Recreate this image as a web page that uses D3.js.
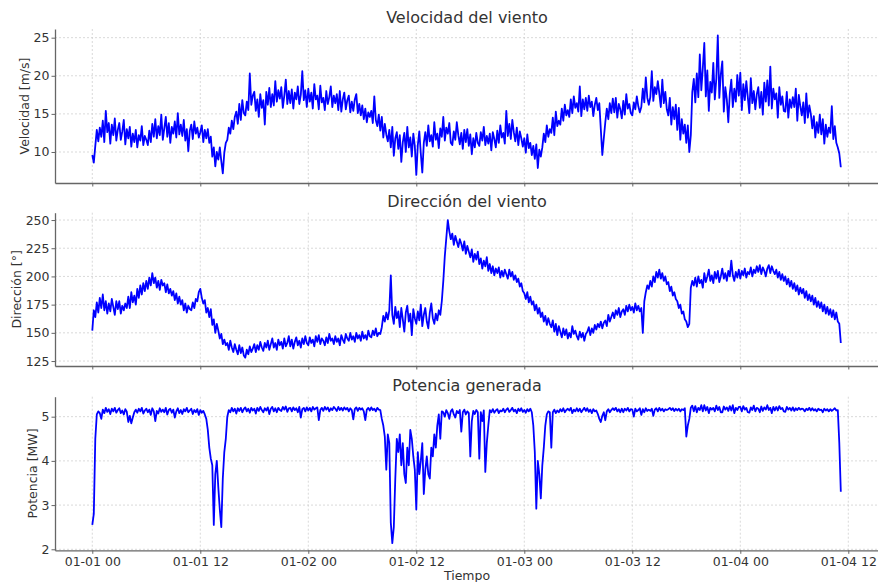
<!DOCTYPE html>
<html>
<head>
<meta charset="utf-8">
<script src="https://cdn.jsdelivr.net/npm/d3@7"></script>
<style>
  body { margin: 0; background: #fff; }
  svg { display: block; font-family: "DejaVu Sans", sans-serif; }
</style>
</head>
<body>
<svg id="chart" width="878" height="582"></svg>
<script>
// Series sampled every 10 minutes from 01-01 00:00; one row = 2 hours.
const startTime = new Date(2024, 0, 1, 0, 0);
const stepMinutes = 10;

const timeTickHours = [0, 12, 24, 36, 48, 60, 72, 84];
const speedTicks = [10, 15, 20, 25];
const directionTicks = [125, 150, 175, 200, 225, 250];
const powerTicks = [2, 3, 4, 5];

const panelTitles = ["Velocidad del viento", "Dirección del viento", "Potencia generada"];
const yAxisLabels = ["Velocidad [m/s]", "Dirección [°]", "Potencia [MW]"];
const xAxisLabel = "Tiempo";

// Wind speed, m/s
const speed = [
  9.6, 8.6, 10.8, 12.9, 11.4, 13.2, 12.0, 14.1, 11.3, 15.4, 12.6, 13.8,
  11.1, 13.6, 12.2, 14.4, 11.5, 12.9, 13.8, 11.6, 12.7, 14.2, 11.0, 13.0,
  11.8, 13.3, 10.7, 12.4, 11.3, 12.9, 10.6, 12.2, 11.5, 13.4, 10.9, 12.1,
  11.6, 10.9, 12.8, 11.3, 13.7, 12.0, 14.3, 11.8, 13.4, 12.2, 14.9, 11.6,
  13.1, 14.6, 12.0, 13.8, 11.2, 13.3, 12.4, 14.0, 11.9, 15.1, 12.3, 13.6,
  12.1, 14.2, 11.5, 13.0, 10.1, 12.8, 13.6, 11.7, 14.0, 12.4, 13.2, 11.9,
  12.6, 13.5, 11.3, 12.9, 11.8, 13.0, 11.2, 12.0, 9.4, 10.6, 8.1, 10.0,
  9.0, 10.6, 8.8, 7.2, 9.9, 11.2, 11.6, 13.2, 12.4, 14.1, 13.0, 14.6,
  15.3, 13.7, 16.3, 14.2, 16.8, 15.1, 14.8, 16.6, 15.5, 20.3, 16.2, 17.4,
  17.9, 15.4, 16.9, 14.6, 17.6, 15.8, 16.8, 13.6, 17.9, 16.2, 18.4, 15.9,
  17.6, 16.1, 19.3, 16.6, 18.1, 17.0, 18.5, 15.8, 17.4, 19.5, 16.3, 18.0,
  16.4, 18.2, 15.7, 17.8, 16.9, 18.6, 16.3, 17.5, 20.6, 16.8, 18.1, 15.9,
  18.3, 16.6, 17.8, 15.7, 18.9, 16.9, 17.4, 15.6, 18.7, 16.5, 17.1, 15.5,
  18.0, 16.3, 17.2, 18.6, 15.9, 17.4, 16.4, 17.6, 15.5, 18.0, 15.3, 16.9,
  17.8, 15.6, 16.8, 17.4, 15.2, 16.6, 15.4, 16.9, 17.6, 15.1, 16.3, 14.8,
  16.1, 14.3, 15.7, 13.9, 15.2, 14.6, 15.4, 13.8, 17.3, 14.2, 13.4, 14.9,
  12.8, 14.6, 11.9, 13.7, 12.3, 11.4, 12.9, 10.6, 13.3, 9.5, 11.8, 12.6,
  10.4, 12.2, 8.7, 11.3, 12.5, 10.0, 13.3, 10.6, 11.9, 9.4, 12.4, 10.8,
  7.0, 10.9, 12.7, 9.8, 7.3, 11.2, 12.6, 10.8, 13.5, 11.4, 12.2, 10.7,
  13.9, 11.6, 12.4, 10.5, 13.1, 12.0, 14.6, 11.5, 13.2, 12.4, 13.8, 11.2,
  10.9, 12.7, 11.6, 13.9, 12.2, 11.0, 12.5, 10.4, 12.9, 11.3, 13.0, 10.8,
  12.3, 9.7, 11.8, 10.6, 12.5, 11.2, 10.8, 12.6, 11.5, 13.3, 10.9, 12.1,
  11.1, 12.4, 10.2, 12.6, 11.7, 10.6, 12.8, 11.2, 13.5, 11.9, 12.5, 11.1,
  15.4, 12.1, 13.7, 11.7, 14.2, 12.6, 11.4, 13.2, 10.9, 12.7, 11.8, 10.7,
  11.8, 9.9, 12.3, 10.5, 11.2, 9.6, 10.8, 9.1, 11.0, 7.9, 10.3, 9.4,
  10.6, 12.4, 11.3, 13.5, 12.0, 13.0, 12.5, 14.5, 12.2, 15.3, 13.4, 14.1,
  13.6, 15.7, 14.1, 16.2, 14.8, 15.5, 14.6, 16.9, 15.1, 17.3, 15.8, 16.4,
  15.3, 18.6, 14.7, 16.9, 15.6, 17.1, 15.4, 17.4, 15.9, 16.6, 14.7, 16.2,
  17.1, 15.5, 16.4, 13.0, 9.6, 11.8, 13.9, 15.7, 14.3, 16.4, 15.1, 17.0,
  15.2, 17.1, 14.5, 16.3, 15.6, 14.4, 16.7, 14.9, 17.6, 15.7, 16.3, 15.1,
  14.8, 16.5, 15.6, 17.3, 16.0, 15.2, 15.9, 18.3, 16.5, 19.8, 17.1, 16.2,
  17.2, 20.6, 16.7, 18.5, 17.6, 19.3, 17.7, 15.9, 19.5, 16.4, 17.9, 15.6,
  14.8, 17.1, 13.6, 15.9, 14.3, 16.2, 12.9, 15.8, 11.6, 14.3, 12.4, 13.6,
  11.2, 13.5, 10.0, 12.2, 17.9, 19.6, 16.5, 20.3, 17.2, 22.8, 18.1, 21.0,
  24.3, 17.3, 20.7, 15.4, 19.2, 17.8, 21.7, 16.9, 19.6, 25.3, 17.1, 20.2,
  21.9, 15.3, 18.5, 16.9, 13.9, 17.7, 19.5, 15.9, 18.3, 16.6, 20.1, 17.4,
  20.4, 15.5, 18.9, 16.8, 19.3, 17.2, 15.1, 19.7, 16.4, 18.0, 15.6, 17.6,
  18.5, 15.8, 17.9, 14.9, 19.1, 16.6, 19.4, 16.1, 21.2, 15.7, 18.3, 16.9,
  17.7, 14.5, 18.5, 16.2, 17.3, 15.4, 15.3, 17.9, 14.5, 16.9, 15.8, 17.2,
  15.9, 18.3, 14.1, 17.5, 16.0, 14.8, 16.5, 13.8, 17.7, 14.5, 16.1, 15.0,
  13.1, 14.7, 11.9, 13.9, 12.5, 14.9, 12.3, 14.3, 11.1, 13.6, 12.0, 13.2,
  12.5, 16.0, 11.7, 13.4, 11.2, 10.6, 9.8, 8.0
];

// Wind direction, degrees
const direction = [
  152, 170, 164, 177, 168, 181, 172, 184, 170, 178, 167, 176,
  169, 180, 173, 166, 178, 171, 178, 167, 174, 170, 176, 172,
  182, 172, 186, 177, 183, 175, 189, 181, 192, 184, 194, 187,
  196, 189, 199, 192, 203, 194, 199, 190, 196, 188, 197, 192,
  194, 186, 193, 185, 189, 183, 187, 179, 185, 176, 182, 175,
  179, 170, 176, 168, 174, 171, 170, 177, 172, 180, 178, 186,
  189, 181, 176, 179, 168, 172, 164, 171, 157, 162, 150, 158,
  152, 145, 149, 140, 144, 139, 141, 135, 143, 137, 133, 140,
  135, 131, 139, 132, 137, 130, 128, 135, 131, 138, 133, 136,
  140, 133, 139, 135, 142, 137, 134, 141, 137, 143, 135, 140,
  145, 137, 141, 135, 144, 139, 142, 136, 145, 138, 141, 147,
  138, 144, 136, 142, 146, 139, 143, 137, 145, 140, 147, 141,
  139, 146, 141, 144, 138, 147, 142, 148, 140, 145, 143, 139,
  146, 141, 149, 143, 145, 140, 147, 142, 145, 139, 148, 144,
  141, 149, 145, 143, 150, 144, 147, 142, 150, 145, 148, 143,
  151, 145, 148, 144, 152, 147, 146, 152, 148, 154, 147, 150,
  149, 155, 165, 160, 168, 162, 170, 201, 166, 158, 173, 163,
  169, 155, 172, 162, 151, 168, 174, 160, 167, 148, 171, 163,
  158, 169, 161, 175, 156, 166, 172, 160, 154, 168, 176, 163,
  158, 167, 161, 170, 166, 178, 196, 218, 234, 250, 240, 233,
  238, 228, 236, 231, 226, 233, 229, 223, 231, 220, 227, 222,
  217, 224, 213, 220, 215, 222, 211, 216, 207, 214, 209, 217,
  205, 211, 203, 209, 201, 207, 203, 208, 199, 205, 200, 206,
  202, 198, 206, 200, 204, 197, 201, 195, 198, 191, 194, 187,
  185, 180, 186, 177, 182, 175, 178, 170, 175, 167, 172, 164,
  168, 160, 165, 157, 163, 158, 155, 161, 151, 158, 148, 156,
  151, 146, 154, 148, 153, 145, 150, 146, 156, 149, 152, 147,
  144, 151, 146, 150, 143, 149, 151, 155, 148, 154, 150, 157,
  153, 158, 155, 160, 154, 159, 161, 156, 166, 160, 164, 168,
  163, 170, 166, 172, 164, 169, 171, 166, 174, 169, 175, 170,
  173, 168, 176, 170, 174, 169, 172, 150, 178, 186, 192, 189,
  196, 191, 200, 195, 204, 199, 206, 198, 203, 196, 200, 193,
  195, 187, 191, 183, 186, 180, 178, 172, 175, 167, 169, 162,
  160, 155, 158, 190, 196, 192, 199, 191, 200, 194, 197, 190,
  203, 195, 200, 206, 196, 201, 194, 204, 198, 205, 195, 200,
  207, 198, 203, 196, 205, 200, 214, 201, 196, 204, 199, 206,
  198, 205, 201, 207, 199, 204, 202, 208, 200, 206, 203, 209,
  204, 210, 202, 208, 205, 200, 207, 210, 203, 209, 205, 202,
  206, 199, 204, 197, 202, 196, 200, 193, 198, 191, 196, 189,
  194, 187, 192, 184, 190, 185, 189, 181, 187, 179, 184, 178,
  183, 175, 181, 173, 178, 172, 177, 169, 175, 167, 173, 166,
  171, 164, 170, 162, 168, 160, 158, 141
];

// Generated power, MW
const power = [
  2.55, 2.8, 4.5, 5.05, 5.12, 5.08, 4.95, 5.16, 5.08, 5.2, 5.11, 5.17,
  5.06, 5.18, 5.12, 5.2, 5.09, 5.15, 5.19, 5.08, 5.14, 5.05, 5.17, 5.11,
  4.88, 5.02, 4.85, 4.98, 5.1, 5.16, 5.09, 5.18, 5.12, 5.2, 5.07, 5.14,
  5.18, 5.1, 5.16, 5.04, 5.19, 5.12, 4.9, 5.13, 5.07, 5.19, 5.11, 5.16,
  5.1, 5.2, 5.05, 5.15, 5.18, 5.09, 5.16, 4.98, 5.12, 5.19, 5.08, 5.15,
  5.06, 5.17, 5.12, 5.2, 5.1, 5.14, 5.18, 5.06, 5.15, 5.1, 5.17, 5.04,
  5.15, 5.09, 5.13, 5.05, 4.95, 4.7, 4.3, 4.05, 3.9, 2.55, 3.7, 4.0,
  3.4, 2.9, 2.5, 3.6, 4.2, 4.5, 5.0, 5.15, 5.1, 5.2, 5.12, 5.18,
  5.07, 5.19, 5.13, 5.2, 5.1, 5.17, 5.21, 5.12, 5.18, 5.09, 5.2, 5.14,
  5.18, 5.07, 5.2, 5.13, 5.22, 5.15, 5.1, 5.19, 5.14, 5.21, 5.06, 5.18,
  5.22, 5.12, 5.19, 5.1, 5.2, 5.15, 5.13, 5.22, 5.16, 5.23, 5.11, 5.19,
  5.2, 5.12, 5.21, 5.15, 5.19, 5.1, 5.22, 4.98, 5.17, 5.2, 5.12, 5.21,
  5.14, 5.2, 5.12, 5.22, 5.16, 5.19, 5.21, 4.92, 5.15, 5.2, 5.13, 5.22,
  5.16, 5.21, 5.12, 5.19, 5.15, 5.22, 5.18, 5.13, 5.22, 5.15, 5.2, 5.14,
  5.21, 5.16, 5.2, 5.12, 5.19, 5.15, 4.94, 5.17, 5.21, 5.13, 5.2, 5.16,
  5.19, 5.12, 4.92, 5.16, 5.2, 5.14, 5.21, 5.15, 5.18, 5.12, 5.2, 5.16,
  5.15, 4.95, 4.8, 4.55, 3.8, 4.6, 4.4, 2.6, 2.14, 2.5, 3.6, 4.5,
  4.2, 4.6, 3.9, 4.4, 3.7, 3.5, 4.3, 3.9, 4.7, 4.5, 4.1, 3.8,
  2.9, 4.2, 3.7, 4.0, 4.4, 3.25, 3.8, 4.1, 3.7, 3.6, 4.3, 4.1,
  4.6, 4.3, 4.8, 5.05, 4.5, 5.12, 5.1, 5.0, 5.15, 5.08, 4.95, 5.12,
  5.17, 5.05, 4.98, 5.13, 5.08, 5.15, 4.66, 5.1, 5.16, 5.05, 5.12, 5.08,
  4.1, 4.9, 5.13, 5.06, 5.15, 5.1, 4.05, 5.1, 4.9, 5.14, 3.75, 4.4,
  4.8, 5.15, 5.1, 5.17, 5.09, 5.14, 5.17, 5.08, 5.14, 5.12, 5.18, 5.1,
  5.16, 5.19, 5.11, 5.15, 5.2, 5.12, 5.16, 5.08, 5.18, 5.13, 5.19, 5.11,
  5.15, 5.09, 5.17, 5.12, 5.18, 5.1, 4.8, 4.2, 2.92, 4.0, 3.7, 3.15,
  3.9, 4.3, 4.8, 5.05, 5.12, 5.1, 4.3, 5.1, 5.16, 5.08, 5.14, 5.1,
  5.17, 5.12, 5.19, 5.1, 5.15, 5.18, 5.14, 5.2, 5.08, 5.16, 5.12, 5.19,
  5.12, 5.18, 5.1, 5.15, 5.2, 5.13, 5.19, 5.11, 5.16, 5.08, 5.17, 5.12,
  5.14, 5.06, 4.95, 4.88, 5.02, 5.1, 4.92, 5.12, 5.17, 5.1, 5.15, 5.19,
  5.15, 5.2, 5.12, 5.17, 5.1, 5.18, 5.1, 5.18, 5.14, 5.2, 5.12, 5.17,
  5.16, 5.0, 5.18, 5.12, 5.15, 5.19, 5.04, 5.17, 5.1, 5.19, 5.13, 5.16,
  5.13, 5.18, 5.02, 5.16, 5.19, 5.12, 5.2, 5.14, 5.18, 5.12, 5.17, 5.15,
  5.17, 5.2, 5.15, 5.19, 5.13, 5.18, 5.14, 5.18, 5.12, 5.17, 5.15, 5.19,
  4.55, 4.8, 4.95, 5.2, 5.25, 5.12, 5.24, 5.1, 5.2, 5.15, 5.26, 5.12,
  5.26, 5.14, 5.22, 5.08, 5.2, 5.16, 5.2, 5.12, 5.25, 5.15, 5.22, 5.1,
  5.1, 5.23, 5.16, 5.21, 5.13, 5.24, 5.14, 5.26, 5.08, 5.2, 5.15, 5.22,
  5.22, 5.12, 5.24, 5.16, 5.2, 5.1, 5.09, 5.21, 5.15, 5.25, 5.12, 5.2,
  5.18, 5.1, 5.23, 5.13, 5.21, 5.16, 5.26, 5.15, 5.2, 5.08, 5.22, 5.14,
  5.22, 5.14, 5.24, 5.17, 5.2, 5.12, 5.11, 5.22, 5.16, 5.2, 5.14, 5.21,
  5.13, 5.19, 5.15, 5.2, 5.16, 5.18, 5.17, 5.12, 5.18, 5.15, 5.2, 5.14,
  5.19, 5.14, 5.17, 5.12, 5.18, 5.15, 5.16, 5.1, 5.18, 5.14, 5.17, 5.12,
  5.17, 5.13, 5.16, 5.19, 5.14, 5.15, 4.4, 3.3
];

// ---- layout ----
const HOUR = 3600 * 1000;
const plotLeft = 55, plotRight = 879;
const panels = [
  { title: panelTitles[0], label: yAxisLabels[0], values: speed, ticks: speedTicks,
    top: 29, bottom: 183, domain: [5.93, 26.14], showX: false },
  { title: panelTitles[1], label: yAxisLabels[1], values: direction, ticks: directionTicks,
    top: 212.7, bottom: 366, domain: [120.6, 256.5], showX: false },
  { title: panelTitles[2], label: yAxisLabels[2], values: power, ticks: powerTicks,
    top: 396.7, bottom: 550.3, domain: [1.977, 5.452], showX: true }
];

const textColor = "#333";
const spineColor = "#666";
const gridColor = "#cfcfcf";
const lineColor = "#0000ff";

const svg = d3.select("#chart");
const timeAt = i => new Date(startTime.getTime() + i * stepMinutes * 60 * 1000);

const x = d3.scaleTime()
  .domain([new Date(startTime.getTime() - 4.144 * HOUR), new Date(startTime.getTime() + 87.41 * HOUR)])
  .range([plotLeft, plotRight]);
const timeTicks = timeTickHours.map(h => new Date(startTime.getTime() + h * HOUR));
const fmt = d3.timeFormat("%m-%d %H");

panels.forEach((p, k) => {
  const y = d3.scaleLinear().domain(p.domain).range([p.bottom, p.top]);
  const g = svg.append("g");

  // grid
  g.append("g").selectAll("line").data(timeTicks).join("line")
    .attr("x1", d => x(d)).attr("x2", d => x(d))
    .attr("y1", p.top).attr("y2", p.bottom)
    .attr("stroke", gridColor).attr("stroke-width", 0.8).attr("stroke-dasharray", "2,2");
  g.append("g").selectAll("line").data(p.ticks).join("line")
    .attr("x1", plotLeft).attr("x2", plotRight)
    .attr("y1", d => y(d)).attr("y2", d => y(d))
    .attr("stroke", gridColor).attr("stroke-width", 0.8).attr("stroke-dasharray", "2,2");

  // series line
  const clipId = "clip" + k;
  svg.append("clipPath").attr("id", clipId).append("rect")
    .attr("x", plotLeft).attr("y", p.top).attr("width", plotRight - plotLeft).attr("height", p.bottom - p.top);
  const line = d3.line().x((d, i) => x(timeAt(i))).y(d => y(d));
  g.append("path").datum(p.values)
    .attr("clip-path", `url(#${clipId})`)
    .attr("d", line)
    .attr("fill", "none").attr("stroke", lineColor)
    .attr("stroke-width", 1.8).attr("stroke-linejoin", "round");

  // x axis
  const xAxis = d3.axisBottom(x).tickValues(timeTicks).tickSize(3.5).tickSizeOuter(0).tickPadding(3.5)
    .tickFormat(p.showX ? fmt : () => "");
  const gx = g.append("g").attr("transform", `translate(0,${p.bottom})`).call(xAxis);
  gx.select(".domain").attr("stroke", spineColor).attr("stroke-width", 1.3);
  gx.selectAll(".tick line").attr("stroke", spineColor).attr("stroke-width", 1);
  gx.selectAll(".tick text").attr("fill", textColor).attr("font-size", 12.5)
    .attr("font-family", "DejaVu Sans, sans-serif");

  // y axis
  const yAxis = d3.axisLeft(y).tickValues(p.ticks).tickSize(3.5).tickSizeOuter(0).tickPadding(2)
    .tickFormat(d3.format("d"));
  const gy = g.append("g").attr("transform", `translate(${plotLeft},0)`).call(yAxis);
  gy.select(".domain").attr("stroke", spineColor).attr("stroke-width", 1.3);
  gy.selectAll(".tick line").attr("stroke", spineColor).attr("stroke-width", 1);
  gy.selectAll(".tick text").attr("fill", textColor).attr("font-size", 12.5)
    .attr("font-family", "DejaVu Sans, sans-serif");

  // y label placed just left of the tick labels
  const bb = gy.node().getBBox();
  const lx = plotLeft + bb.x - 8.7;
  g.append("text")
    .attr("transform", `translate(${lx},${(p.top + p.bottom) / 2}) rotate(-90)`)
    .attr("text-anchor", "middle").attr("dominant-baseline", "central")
    .attr("font-size", 12.5).attr("fill", textColor).text(p.label);

  // title
  g.append("text")
    .attr("x", (plotLeft + plotRight) / 2).attr("y", p.top - 6)
    .attr("text-anchor", "middle").attr("font-size", 16).attr("fill", textColor)
    .text(p.title);
});

svg.append("text")
  .attr("x", (plotLeft + plotRight) / 2).attr("y", 579.5)
  .attr("text-anchor", "middle").attr("font-size", 12.5).attr("fill", textColor)
  .text(xAxisLabel);
</script>
</body>
</html>
